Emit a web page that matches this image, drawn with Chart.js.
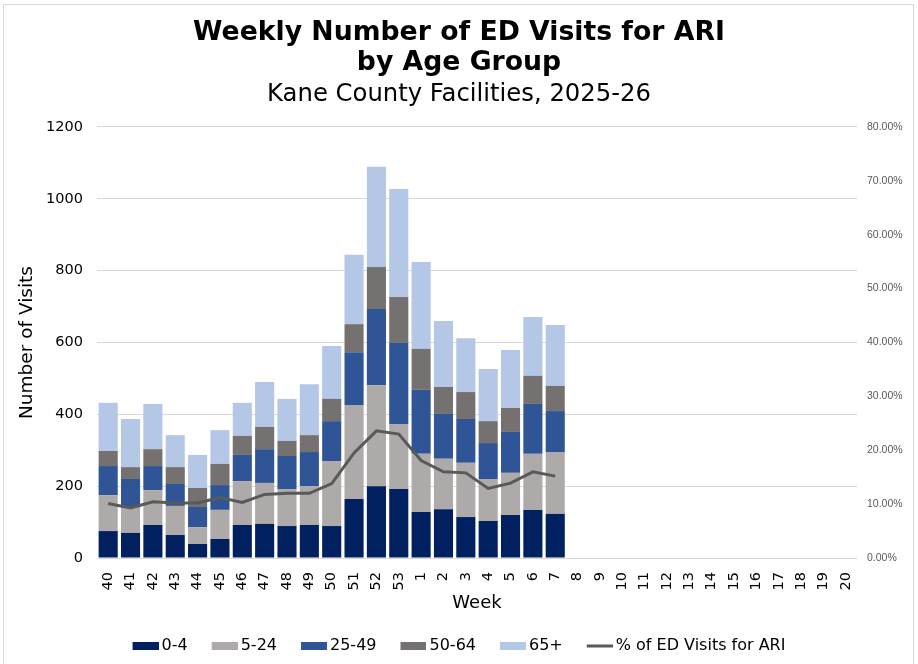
<!DOCTYPE html>
<html><head><meta charset="utf-8">
<script src="https://cdn.jsdelivr.net/npm/chart.js@4/dist/chart.umd.min.js"></script>
<style>html,body{margin:0;padding:0;background:#fff}#wrap{width:918px;height:664px;position:relative}</style>
</head><body><div id="wrap"><canvas id="c" width="918" height="664"></canvas></div>
<script>
const weeks = ['40','41','42','43','44','45','46','47','48','49','50','51','52','53','1','2','3','4','5','6','7','8','9','10','11','12','13','14','15','16','17','18','19','20'];
const age0_4   = [75,70,92,64,39,53,92,95,89,92,89,164,200,192,128,136,114,103,120,134,123];
const age5_24  = [100,70,97,81,47,81,122,114,103,108,181,262,281,181,162,140,151,117,117,156,172];
const age25_49 = [81,80,67,61,56,69,73,94,92,95,111,147,212,226,178,125,122,100,114,139,114];
const age50_64 = [42,33,47,47,53,59,53,62,42,47,62,78,117,128,114,75,75,61,67,78,70];
const age65p   = [134,134,126,89,92,94,92,125,117,142,147,193,279,300,242,184,150,145,161,164,170];
const pctARI   = [0.101,0.093,0.1045,0.102,0.102,0.112,0.103,0.118,0.120,0.120,0.138,0.195,0.236,0.230,0.181,0.160,0.158,0.129,0.139,0.160,0.152];
const leftTicks = [0,200,400,600,800,1000,1200];

const colors = {n:'#002060', g:'#AEAAAA', b:'#2F5597', d:'#767171', l:'#B4C7E7', line:'#595959'};
const FONT = "'DejaVu Sans', Verdana, sans-serif";

function pad(arr){ const a = arr.slice(); while(a.length < weeks.length) a.push(null); return a; }

function swatch(color, h){
  const c = document.createElement('canvas'); c.width = 31; c.height = 10;
  const x = c.getContext('2d'); x.fillStyle = color; x.fillRect(5, (10-h)/2, 26, h); return c;
}

const borderPlugin = { id:'frame', afterDraw(chart){ const ctx = chart.ctx; ctx.save(); ctx.strokeStyle='#d9d9d9'; ctx.lineWidth=1; ctx.strokeRect(3.5,4.5,910,700); ctx.restore(); } };

const barDs = (label, data, color) => ({type:'bar', label, data: pad(data), backgroundColor: color, yAxisID:'y', stack:'s', order:2, categoryPercentage:0.9, barPercentage:0.95});

new Chart(document.getElementById('c'), {
  data: {
    labels: weeks,
    datasets: [
      barDs('0-4', age0_4, colors.n),
      barDs('5-24', age5_24, colors.g),
      barDs('25-49', age25_49, colors.b),
      barDs('50-64', age50_64, colors.d),
      barDs('65+', age65p, colors.l),
      {type:'line', label:'% of ED Visits for ARI', data: pad(pctARI), yAxisID:'y1', borderColor: colors.line, backgroundColor: colors.line, borderWidth:3, pointRadius:0, tension:0, order:1}
    ]
  },
  options: {
    responsive:false, animation:false,
    layout:{padding:{top:8, bottom:0, left:0, right:0}},
    plugins:{
      title:{display:true, text:['Weekly Number of ED Visits for ARI','by Age Group'], color:'#000', font:{family:FONT, size:26.7, weight:'bold', lineHeight:1.12}, padding:{top:10,bottom:0}},
      subtitle:{display:true, text:'Kane County Facilities, 2025-26', color:'#000', font:{family:FONT, size:24.3, lineHeight:1.2}, padding:{top:2,bottom:18}},
      legend:{position:'bottom', labels:{
        usePointStyle:true, pointStyleWidth:21, boxHeight:10, padding:24, color:'#000', font:{family:FONT, size:16},
        generateLabels(chart){
          return chart.data.datasets.map((ds,i)=>({text:ds.label, pointStyle: swatch(ds.type==='line' ? ds.borderColor : ds.backgroundColor, ds.type==='line'?3:8), fillStyle:'rgba(0,0,0,0)', strokeStyle:'rgba(0,0,0,0)', lineWidth:0, datasetIndex:i, hidden:false}));
        }
      }},
      tooltip:{enabled:false}
    },
    scales:{
      x:{stacked:true, grid:{display:false}, border:{display:false},
        ticks:{color:'#000', font:{family:FONT, size:14.5}, minRotation:90, maxRotation:90, autoSkip:false, padding:6},
        title:{display:true, text:'Week', color:'#000', font:{family:FONT, size:18}, padding:{top:4,bottom:0}},
        afterFit(s){ s.height = 56; }
      },
      y:{stacked:true, position:'left', min:0, max:1200,
        afterBuildTicks(s){ s.ticks = leftTicks.map(v=>({value:v})); },
        grid:{color:'#d9d9d9', lineWidth:1, drawTicks:false}, border:{display:false},
        ticks:{color:'#000', font:{family:FONT, size:14.5}, padding:14, callback:v=>String(v)},
        title:{display:true, text:'Number of Visits', color:'#000', font:{family:FONT, size:18.5}, padding:{top:16,bottom:4}},
        afterFit(s){ s.width = 97; }
      },
      y1:{position:'right', min:0, max:0.8, grid:{display:false, drawTicks:false}, border:{display:false},
        ticks:{stepSize:0.1, color:'#595959', font:{family:"'Liberation Sans', Arial, sans-serif", size:10.5}, padding:10, callback:v=>(v*100).toFixed(2)+'%'},
        afterFit(s){ s.width = 61; }
      }
    }
  },
  plugins:[borderPlugin]
});
</script></body></html>
